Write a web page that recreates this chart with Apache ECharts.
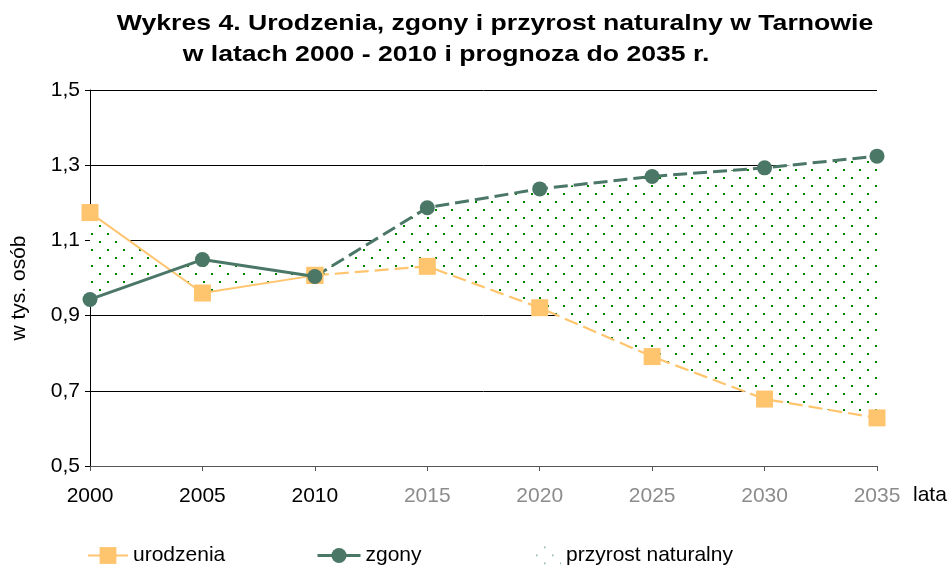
<!DOCTYPE html>
<html>
<head>
<meta charset="utf-8">
<script src="https://cdn.jsdelivr.net/npm/echarts@6/dist/echarts.min.js"></script>
<style>
  html, body { margin: 0; padding: 0; background: #fff; }
  #chart { width: 951px; height: 566px; }
</style>
</head>
<body>
<div id="chart"></div>
<script>
// dane
const years = ['2000', '2005', '2010', '2015', '2020', '2025', '2030', '2035']
const urodzenia = [1.174, 0.960, 1.007, 1.031, 0.921, 0.791, 0.678, 0.628]
const zgony = [0.943, 1.049, 1.004, 1.187, 1.237, 1.270, 1.293, 1.324]
const lastReal = 2 // indeks roku 2010, dalej prognoza
const yTicks = [0.5, 0.7, 0.9, 1.1, 1.3, 1.5]

const FONT = "'Liberation Sans', Arial, sans-serif"
const ORANGE = '#FFC46E'
const GREEN = '#4B7767'

// wzor kropek dla przyrostu
const pat = document.createElement('canvas')
pat.width = 16
pat.height = 16
let ctx = pat.getContext('2d')
ctx.fillStyle = '#fff'
ctx.fillRect(0, 0, 16, 16)
ctx.fillStyle = '#008000'
ctx.fillRect(3, 1, 2, 2)
ctx.fillRect(11, 9, 2, 2)

// ikona legendy
const ico = document.createElement('canvas')
ico.width = 26
ico.height = 20
ctx = ico.getContext('2d')
ctx.fillStyle = '#7FA898'
;[[9, 1], [1, 9], [17, 9], [9, 17], [25, 17]].forEach(p => ctx.fillRect(p[0], p[1], 1.5, 1.5))

const realPart = arr => arr.map((v, i) => (i <= lastReal ? v : null))
const forecastPart = arr => arr.map((v, i) => (i >= lastReal ? v : null))

const chart = echarts.init(document.getElementById('chart'))
chart.setOption({
  animation: false,
  textStyle: { fontFamily: FONT },
  grid: { left: 90, right: 74, top: 90, bottom: 100 },
  graphic: [
    {
      type: 'text', x: 495, y: 24, scaleX: 1.21,
      style: { text: 'Wykres 4. Urodzenia, zgony i przyrost naturalny w Tarnowie', font: 'bold 22px ' + FONT, fill: '#000', align: 'center', verticalAlign: 'middle' }
    },
    {
      type: 'text', x: 446, y: 55, scaleX: 1.21,
      style: { text: 'w latach 2000 - 2010 i prognoza do 2035 r.', font: 'bold 22px ' + FONT, fill: '#000', align: 'center', verticalAlign: 'middle' }
    },
    {
      type: 'text', x: 19, y: 288, rotation: Math.PI / 2,
      style: { text: 'w tys. osób', font: '21px ' + FONT, fill: '#000', align: 'center', verticalAlign: 'middle' }
    },
    {
      type: 'text', x: 913, y: 495,
      style: { text: 'lata', font: '21px ' + FONT, fill: '#000', align: 'left', verticalAlign: 'middle' }
    }
  ],
  legend: [
    {
      data: ['urodzenia'], left: 82, top: 540, itemWidth: 40, itemHeight: 21,
      textStyle: { fontSize: 21, color: '#000', fontFamily: FONT },
      lineStyle: { width: 2 }
    },
    {
      data: ['zgony'], left: 311, top: 540, itemWidth: 43, itemHeight: 19,
      textStyle: { fontSize: 21, color: '#000', fontFamily: FONT },
      lineStyle: { width: 3 }
    },
    {
      data: [{ name: 'przyrost naturalny', icon: 'image://' + ico.toDataURL() }],
      left: 530, top: 540, itemWidth: 26, itemHeight: 20,
      textStyle: { fontSize: 21, color: '#000', fontFamily: FONT }
    }
  ],
  xAxis: {
    type: 'category',
    data: years,
    boundaryGap: false,
    axisLine: { lineStyle: { color: '#555', width: 1 } },
    axisTick: { alignWithLabel: true, length: 5, lineStyle: { color: '#555' } },
    axisLabel: {
      fontSize: 21, margin: 20, fontFamily: FONT,
      color: (v, i) => (i <= lastReal ? '#000' : '#8C8C8C')
    },
    splitLine: { show: false }
  },
  yAxis: {
    type: 'value',
    min: 0.5,
    max: 1.5,
    interval: 0.2,
    axisLine: { show: true, lineStyle: { color: '#000' } },
    axisTick: { show: true, length: 5, lineStyle: { color: '#000' } },
    axisLabel: {
      fontSize: 21, margin: 10, color: '#000', fontFamily: FONT,
      formatter: v => yTicks.find(t => Math.abs(t - v) < 1e-6).toFixed(1).replace('.', ',')
    },
    splitLine: { lineStyle: { color: '#000', width: 1 } }
  },
  series: [
    {
      name: 'przyrost naturalny',
      type: 'custom',
      z: 1,
      silent: true,
      itemStyle: { color: '#7FA898' },
      data: [[0, 1]],
      renderItem: (params, api) => {
        const pts = []
        for (let i = 0; i < years.length; i++) pts.push(api.coord([i, urodzenia[i]]))
        for (let i = years.length - 1; i >= 0; i--) pts.push(api.coord([i, zgony[i]]))
        return {
          type: 'polygon',
          shape: { points: pts },
          style: { fill: { image: pat, repeat: 'repeat' }, stroke: null }
        }
      }
    },
    {
      name: 'urodzenia prognoza',
      type: 'line',
      z: 3,
      data: forecastPart(urodzenia),
      symbol: 'rect',
      symbolSize: 17,
      itemStyle: { color: ORANGE },
      lineStyle: { color: ORANGE, width: 2.2, type: [14, 6] }
    },
    {
      name: 'zgony prognoza',
      type: 'line',
      z: 4,
      data: forecastPart(zgony),
      symbol: 'circle',
      symbolSize: 15,
      itemStyle: { color: GREEN },
      lineStyle: { color: GREEN, width: 3, type: [14, 6] }
    },
    {
      name: 'urodzenia',
      type: 'line',
      z: 5,
      data: realPart(urodzenia),
      symbol: 'rect',
      symbolSize: 17,
      itemStyle: { color: ORANGE },
      lineStyle: { color: ORANGE, width: 2 }
    },
    {
      name: 'zgony',
      type: 'line',
      z: 6,
      data: realPart(zgony),
      symbol: 'circle',
      symbolSize: 15,
      itemStyle: { color: GREEN },
      lineStyle: { color: GREEN, width: 3 }
    }
  ]
})
</script>
</body>
</html>
